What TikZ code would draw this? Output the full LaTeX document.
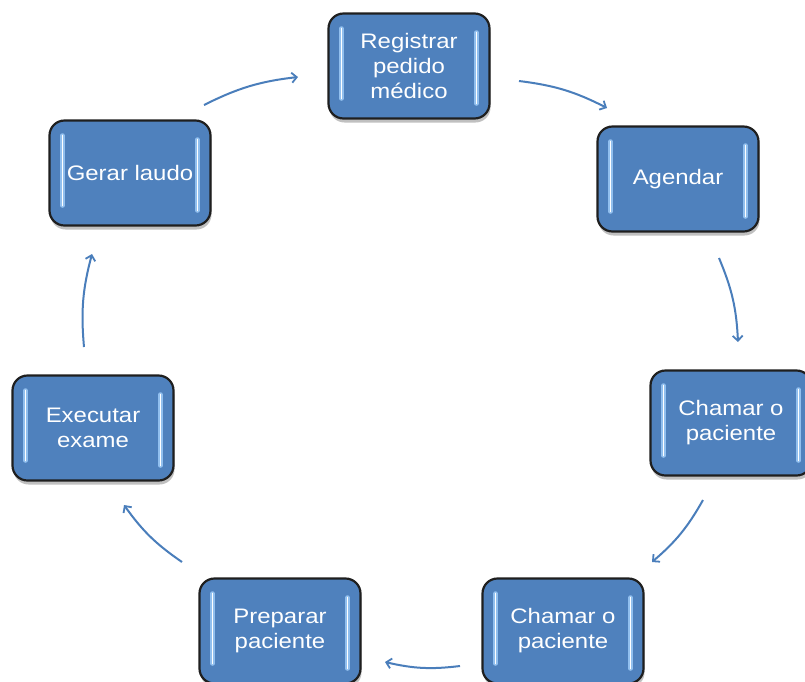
\documentclass[tikz,border=0pt]{standalone}
\usepackage{fontspec}
\setmainfont{Liberation Sans}[FakeStretch=1.14]
\usetikzlibrary{arrows.meta,shadows}
\definecolor{boxblue}{HTML}{4F81BD}
\definecolor{edgeblue}{HTML}{4A7EBB}
\definecolor{glowblue}{HTML}{A8D4FF}
\tikzset{
  x=1pt, y=-1pt,
  glowbar/.style={line cap=round},
  stepbox/.style={rounded corners=15pt, fill=boxblue, draw=black!88, line width=2.2pt,
    minimum width=161pt, minimum height=105pt, text=white, align=center,
    font=\fontsize{21}{25}\selectfont,
    drop shadow={shadow xshift=1pt, shadow yshift=-4pt, opacity=0.35, fill=black!70},
    path picture={
      \draw[glowbar, glowblue, line width=4.5pt, opacity=0.75]
        ([xshift=13pt,yshift=-15pt]path picture bounding box.north west) --
        ([xshift=13pt,yshift=20pt]path picture bounding box.south west)
        ([xshift=-13pt,yshift=-19pt]path picture bounding box.north east) --
        ([xshift=-13pt,yshift=15pt]path picture bounding box.south east);
      \draw[glowbar, white, line width=1.6pt]
        ([xshift=13pt,yshift=-15pt]path picture bounding box.north west) --
        ([xshift=13pt,yshift=20pt]path picture bounding box.south west)
        ([xshift=-13pt,yshift=-19pt]path picture bounding box.north east) --
        ([xshift=-13pt,yshift=15pt]path picture bounding box.south east);
    }},
  flow/.style={draw=edgeblue, line width=2pt,
    -{Straight Barb[length=5pt,width=10pt,line width=1.8pt]}}
}
\begin{document}
\begin{tikzpicture}
\clip (0,0) rectangle (805,681);
\fill[white] (0,0) rectangle (805,681);

% process steps
\node[stepbox] (reg) at (409,66) {Registrar\\pedido\\médico};
\node[stepbox] (age) at (678,179) {Agendar};
\node[stepbox] (cha1) at (731,423) {Chamar o\\paciente};
\node[stepbox] (cha2) at (563,631) {Chamar o\\paciente};
\node[stepbox] (pre) at (280,631) {Preparar\\paciente};
\node[stepbox] (exe) at (93,428) {Executar\\exame};
\node[stepbox] (ger) at (130,173) {Gerar laudo};

% arrow end points between the steps
\coordinate (a1s) at (204,105); \coordinate (a1e) at (298,77);
\coordinate (a2s) at (519,81);  \coordinate (a2e) at (607,108);
\coordinate (a3s) at (719,258); \coordinate (a3e) at (738,342);
\coordinate (a4s) at (703,500); \coordinate (a4e) at (652,562);
\coordinate (a5s) at (460,666); \coordinate (a5e) at (385,662);
\coordinate (a6s) at (182,562); \coordinate (a6e) at (124,505);
\coordinate (a7s) at (84,347);  \coordinate (a7e) at (92,254);

\draw[flow] (a1s) to[bend left=10] (a1e);
\draw[flow] (a2s) to[bend left=10] (a2e);
\draw[flow] (a3s) to[bend left=10] (a3e);
\draw[flow] (a4s) to[bend left=10] (a4e);
\draw[flow] (a5s) to[bend left=10] (a5e);
\draw[flow] (a6s) to[bend left=10] (a6e);
\draw[flow] (a7s) to[bend left=10] (a7e);
\end{tikzpicture}
\end{document}
